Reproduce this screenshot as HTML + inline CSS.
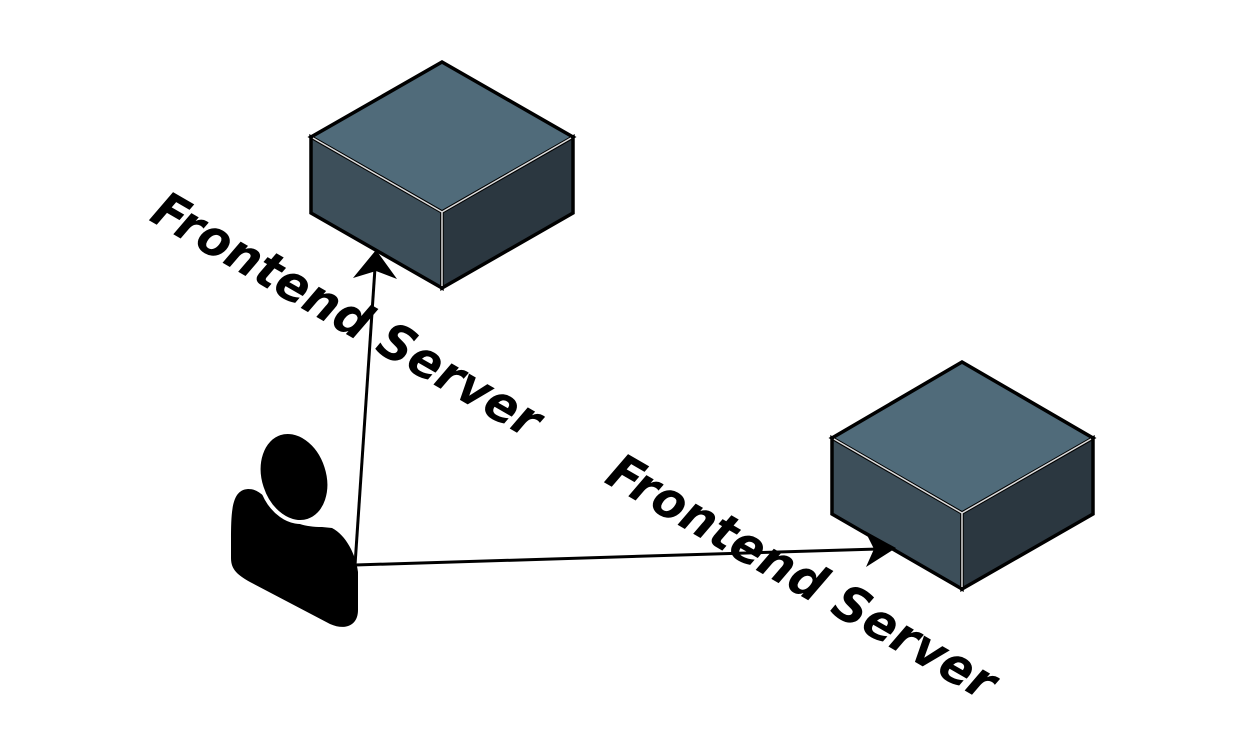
<!DOCTYPE html>
<html><head><style>html,body{margin:0;padding:0;background:#fff;}svg{display:block}</style></head>
<body>
<svg width="1255" height="748" viewBox="0 0 1255 748" xmlns="http://www.w3.org/2000/svg">
<!-- cube 1 -->
<g stroke="#000" stroke-width="3.5" stroke-linejoin="miter">
<polygon points="442,62 573,137 442,212 311,137" fill="#506b7a"/>
<polygon points="311,137 442,212 442,288 311,213" fill="#3d4f5a"/>
<polygon points="442,212 573,137 573,213 442,288" fill="#2b3740"/>
</g>
<polyline points="313,138 442,212 571,138" fill="none" stroke="#ddd" stroke-width="1.5"/>
<line x1="442" y1="212" x2="442" y2="286" stroke="#ddd" stroke-width="1.5"/>
<!-- cube 2 -->
<g stroke="#000" stroke-width="3.5">
<polygon points="962,362 1093,438 962,513 832,438" fill="#506b7a"/>
<polygon points="832,438 962,513 962,589 832,514" fill="#3d4f5a"/>
<polygon points="962,513 1093,438 1093,514 962,589" fill="#2b3740"/>
</g>
<polyline points="834,439 962,513 1091,439" fill="none" stroke="#ddd" stroke-width="1.5"/>
<line x1="962" y1="513" x2="962" y2="587" stroke="#ddd" stroke-width="1.5"/>
<!-- person -->
<path d="M248,489 C232,490 231,510 231,540 L231,558 C231,570 238,575 250,582 L330,624 C346,631 358,625 358,610 L358,572 C356,555 346,535 332,528 L322,527 C305,527 293,523 283,515 L265,497 C258,491 254,489 248,489 Z" fill="#000"/>
<ellipse cx="294" cy="477" rx="34" ry="46" transform="rotate(-18 294 477)" fill="#000" stroke="#fff" stroke-width="4"/>
<!-- arrows -->
<line x1="355" y1="565" x2="375" y2="268" stroke="#000" stroke-width="3"/>
<polygon points="376,250 397,279 376,271 353,278" fill="#000"/>
<line x1="355" y1="565" x2="878" y2="549" stroke="#000" stroke-width="3"/>
<polygon points="896,548 866,567 874,549 865,531" fill="#000"/>
<!-- labels -->
<text x="347" y="332" transform="rotate(30 347 315)" text-anchor="middle" font-family="DejaVu Sans, sans-serif" font-weight="bold" font-style="italic" font-size="50" textLength="440" lengthAdjust="spacingAndGlyphs">Frontend Server</text>
<text x="802" y="594" transform="rotate(30 802 577)" text-anchor="middle" font-family="DejaVu Sans, sans-serif" font-weight="bold" font-style="italic" font-size="50" textLength="440" lengthAdjust="spacingAndGlyphs">Frontend Server</text>
</svg>
</body></html>
